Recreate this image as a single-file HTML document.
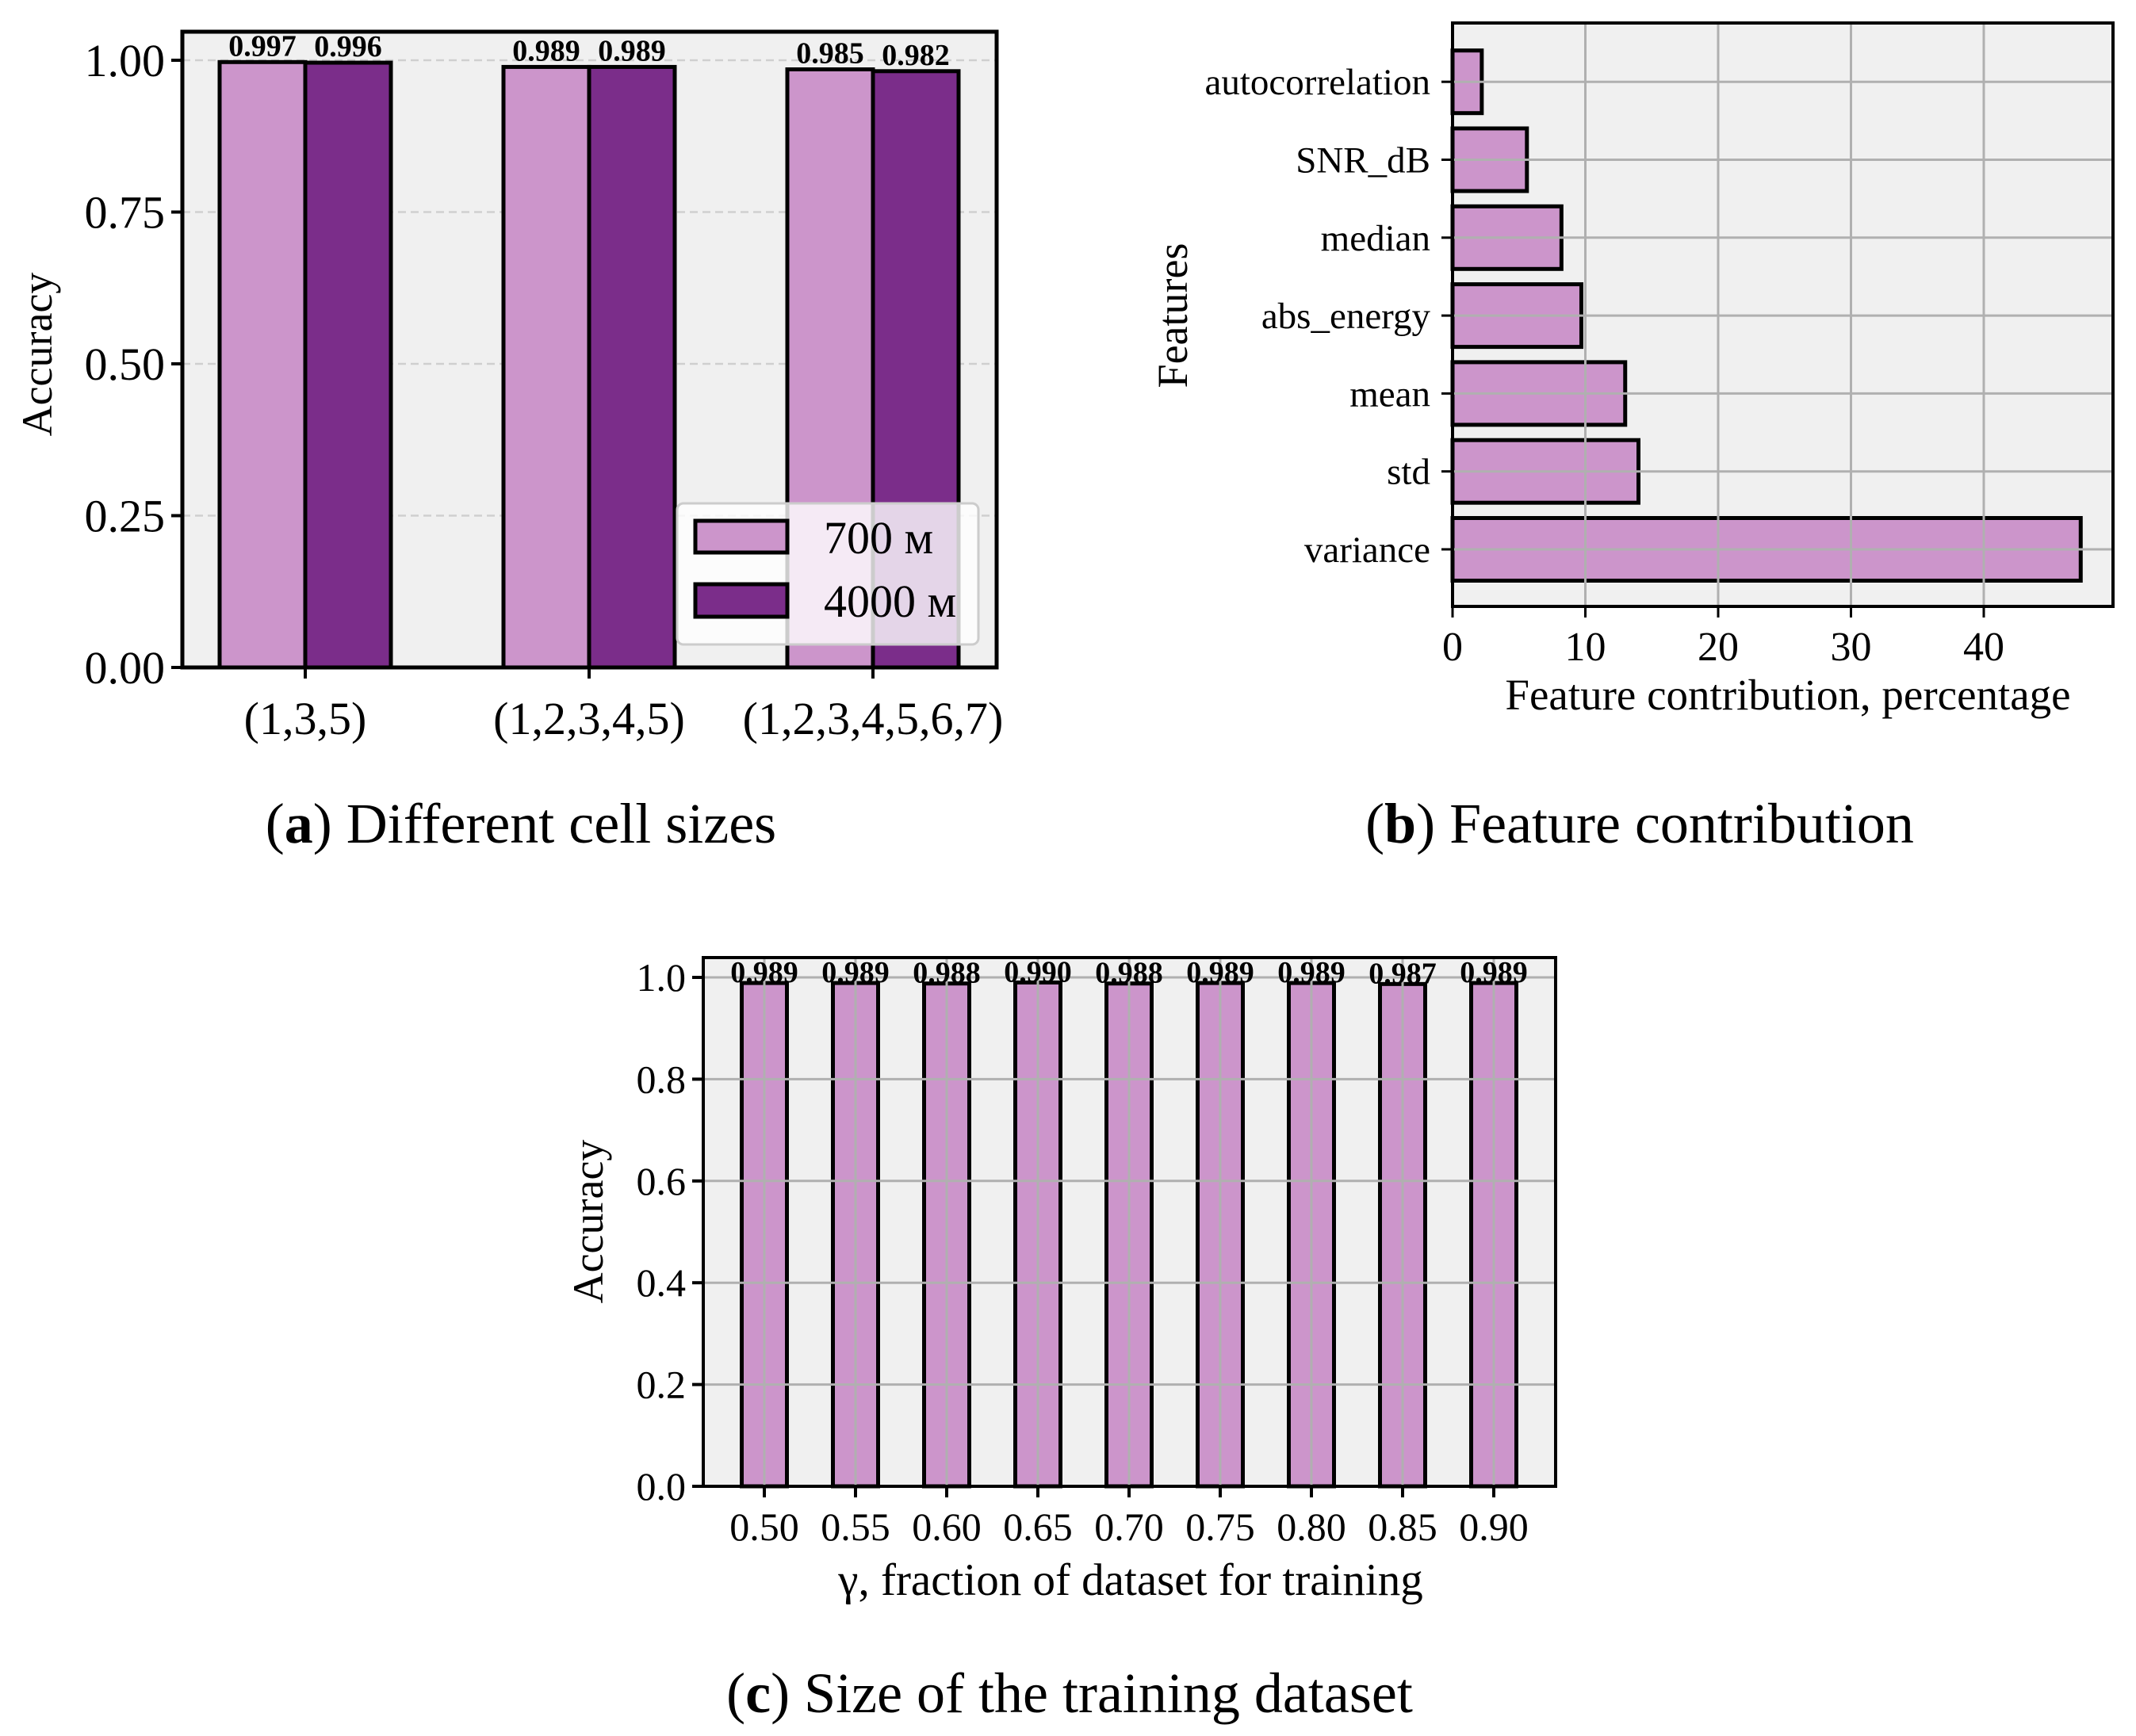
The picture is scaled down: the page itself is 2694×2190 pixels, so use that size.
<!DOCTYPE html>
<html><head><meta charset="utf-8"><style>
html,body{margin:0;padding:0;background:#fff}
svg{display:block}
text{font-family:"Liberation Serif",serif;fill:#000}
</style></head><body>
<svg id="fig" width="2694" height="2190" viewBox="0 0 2694 2190" xmlns="http://www.w3.org/2000/svg"></svg>
<script>
// Chart (a)
const aCategories = ["(1,3,5)", "(1,2,3,4,5)", "(1,2,3,4,5,6,7)"];
const a700 = [0.997, 0.989, 0.985];
const a4000 = [0.996, 0.989, 0.982];
const aYTicks = [0, 0.25, 0.5, 0.75, 1.0];
const aYTickLabels = ["0.00", "0.25", "0.50", "0.75", "1.00"];
// Chart (b)
const bFeatures = ["variance", "std", "mean", "abs_energy", "median", "SNR_dB", "autocorrelation"];
const bValues = [47.3, 14.0, 13.0, 9.7, 8.2, 5.6, 2.2];
const bXTicks = [0, 10, 20, 30, 40];
// Chart (c)
const cGammas = [0.50, 0.55, 0.60, 0.65, 0.70, 0.75, 0.80, 0.85, 0.90];
const cAcc = [0.989, 0.989, 0.988, 0.990, 0.988, 0.989, 0.989, 0.987, 0.989];
const cYTicks = [0, 0.2, 0.4, 0.6, 0.8, 1.0];

const NS = "http://www.w3.org/2000/svg";
const svg = document.getElementById("fig");
function mk(tag, attrs, parent, txt) {
  const e = document.createElementNS(NS, tag);
  for (const k in attrs) e.setAttribute(k, attrs[k]);
  if (txt !== undefined) e.textContent = txt;
  (parent || svg).appendChild(e);
  return e;
}
const PINK = "#cc95cb", PURPLE = "#7b2d8a", BG = "#f0f0f0", GRID = "#b0b0b0";

// ---------- Chart A ----------
(function () {
  const L = 230, R = 1257, T = 40, B = 842;
  const y = v => B - (v / 1.047) * (B - T);
  const x = i => 385 + i * 358;
  const bw = 108;
  const g = mk("g", {});
  
  
  mk("rect", { x: L, y: T, width: R - L, height: B - T, fill: BG }, g);
  aYTicks.forEach((t, i) => {
    const gl = mk("line", { x1: L, x2: R, y1: y(t), y2: y(t), stroke: "#cfcfcf", "stroke-width": 2.5, "stroke-dasharray": "10,6" }, g);
    
    
    mk("line", { x1: L - 14, x2: L, y1: y(t), y2: y(t), stroke: "#000", "stroke-width": 4 }, g);
    const tl = mk("text", { x: L - 22, y: y(t) + 20, "text-anchor": "end", "font-size": 58 }, g, aYTickLabels[i]);
    
    
  });
  aCategories.forEach((c, i) => {
    const b1 = mk("rect", { x: x(i) - bw, y: y(a700[i]), width: bw, height: B - y(a700[i]), fill: PINK, stroke: "#000", "stroke-width": 5 }, g);
    
    
    const b2 = mk("rect", { x: x(i), y: y(a4000[i]), width: bw, height: B - y(a4000[i]), fill: PURPLE, stroke: "#000", "stroke-width": 5 }, g);
    
    
    const v1 = mk("text", { x: x(i) - bw / 2, y: y(a700[i]) - 8, "text-anchor": "middle", "font-size": 38, "font-weight": "bold" }, g, a700[i].toFixed(3));
    
    
    const v2 = mk("text", { x: x(i) + bw / 2, y: y(a4000[i]) - 8, "text-anchor": "middle", "font-size": 38, "font-weight": "bold" }, g, a4000[i].toFixed(3));
    
    
    mk("line", { x1: x(i), x2: x(i), y1: B, y2: B + 14, stroke: "#000", "stroke-width": 4 }, g);
    const xl = mk("text", { x: x(i), y: B + 84, "text-anchor": "middle", "font-size": 58 }, g, c);
    
    
  });
  mk("rect", { x: L, y: T, width: R - L, height: B - T, fill: "none", stroke: "#000", "stroke-width": 5 }, g);
  // legend
  const lg = mk("g", {}, g);
  
  
  mk("rect", { x: 854, y: 635, width: 380, height: 178, rx: 8, fill: "#fff", "fill-opacity": 0.8, stroke: "#cccccc", "stroke-width": 3 }, lg);
  mk("rect", { x: 877, y: 657, width: 116, height: 40, fill: PINK, stroke: "#000", "stroke-width": 5 }, lg);
  mk("rect", { x: 877, y: 737, width: 116, height: 41, fill: PURPLE, stroke: "#000", "stroke-width": 5 }, lg);
  const le1 = mk("text", { x: 1039, y: 698, "font-size": 58 }, lg, "700 м");
  
  
  const le2 = mk("text", { x: 1039, y: 778, "font-size": 58 }, lg, "4000 м");
  
  
  const yl = mk("text", { x: 0, y: 0, "text-anchor": "middle", "font-size": 54, transform: "translate(65,447) rotate(-90)" }, g, "Accuracy");
  
  
  const cap = mk("text", { x: 657, y: 1063, "text-anchor": "middle", "font-size": 72 }, g);
  
  
  mk("tspan", {}, cap, "(");
  mk("tspan", { "font-weight": "bold" }, cap, "a");
  mk("tspan", {}, cap, ") Different cell sizes");
})();

// ---------- Chart B ----------
(function () {
  const L = 1832, R = 2665, T = 29, B = 765;
  const x = v => L + v * 16.75;
  const y = i => 693 - i * 98.3;
  const bh = 79;
  const g = mk("g", {});
  
  
  mk("rect", { x: L, y: T, width: R - L, height: B - T, fill: BG }, g);
  bFeatures.forEach((f, i) => {
    const b = mk("rect", { x: x(0), y: y(i) - bh / 2, width: x(bValues[i]) - x(0), height: bh, fill: PINK, stroke: "#000", "stroke-width": 5 }, g);
    
    
  });
  bXTicks.forEach(t => {
    const gl = mk("line", { x1: x(t), x2: x(t), y1: T, y2: B, stroke: GRID, "stroke-width": 3 }, g);
    
    
    mk("line", { x1: x(t), x2: x(t), y1: B, y2: B + 14, stroke: "#000", "stroke-width": 3 }, g);
    const tl = mk("text", { x: x(t), y: B + 68, "text-anchor": "middle", "font-size": 52 }, g, String(t));
    
    
  });
  bFeatures.forEach((f, i) => {
    const gl = mk("line", { x1: L, x2: R, y1: y(i), y2: y(i), stroke: GRID, "stroke-width": 3 }, g);
    
    
    mk("line", { x1: L - 14, x2: L, y1: y(i), y2: y(i), stroke: "#000", "stroke-width": 3 }, g);
    const tl = mk("text", { x: L - 28, y: y(i) + 16, "text-anchor": "end", "font-size": 47 }, g, f);
    
    
  });
  mk("rect", { x: L, y: T, width: R - L, height: B - T, fill: "none", stroke: "#000", "stroke-width": 4 }, g);
  const yl = mk("text", { x: 0, y: 0, "text-anchor": "middle", "font-size": 54, transform: "translate(1497,398) rotate(-90)" }, g, "Features");
  
  
  const xl = mk("text", { x: 2255, y: 895, "text-anchor": "middle", "font-size": 55 }, g, "Feature contribution, percentage");
  
  
  const cap = mk("text", { x: 2068, y: 1063, "text-anchor": "middle", "font-size": 72 }, g);
  
  
  mk("tspan", {}, cap, "(");
  mk("tspan", { "font-weight": "bold" }, cap, "b");
  mk("tspan", {}, cap, ") Feature contribution");
})();

// ---------- Chart C ----------
(function () {
  const L = 887, R = 1962, T = 1208, B = 1875;
  const y = v => B - v * 642;
  const x = v => 964 + (v - 0.5) / 0.05 * 115;
  const bw = 57;
  const g = mk("g", {});
  
  
  mk("rect", { x: L, y: T, width: R - L, height: B - T, fill: BG }, g);
  cGammas.forEach((gm, i) => {
    const b = mk("rect", { x: x(gm) - bw / 2, y: y(cAcc[i]), width: bw, height: B - y(cAcc[i]), fill: PINK, stroke: "#000", "stroke-width": 5 }, g);
    
    
  });
  cYTicks.forEach(t => {
    const gl = mk("line", { x1: L, x2: R, y1: y(t), y2: y(t), stroke: GRID, "stroke-width": 3 }, g);
    
    
    mk("line", { x1: L - 14, x2: L, y1: y(t), y2: y(t), stroke: "#000", "stroke-width": 4 }, g);
    const tl = mk("text", { x: L - 22, y: y(t) + 17, "text-anchor": "end", "font-size": 50 }, g, t.toFixed(1));
    
    
  });
  cGammas.forEach((gm, i) => {
    const gl = mk("line", { x1: x(gm), x2: x(gm), y1: T, y2: B, stroke: GRID, "stroke-width": 3 }, g);
    
    
    mk("line", { x1: x(gm), x2: x(gm), y1: B, y2: B + 14, stroke: "#000", "stroke-width": 4 }, g);
    const tl = mk("text", { x: x(gm), y: B + 68, "text-anchor": "middle", "font-size": 50 }, g, gm.toFixed(2));
    
    
    const vl = mk("text", { x: x(gm), y: y(cAcc[i]) - 1, "text-anchor": "middle", "font-size": 38, "font-weight": "bold" }, g, cAcc[i].toFixed(3));
    
    
  });
  mk("rect", { x: L, y: T, width: R - L, height: B - T, fill: "none", stroke: "#000", "stroke-width": 4 }, g);
  const yl = mk("text", { x: 0, y: 0, "text-anchor": "middle", "font-size": 54, transform: "translate(760,1541) rotate(-90)" }, g, "Accuracy");
  
  
  const xl = mk("text", { x: 1426, y: 2012, "text-anchor": "middle", "font-size": 57 }, g, "γ, fraction of dataset for training");
  
  
  const cap = mk("text", { x: 1349, y: 2160, "text-anchor": "middle", "font-size": 72 }, g);
  
  
  mk("tspan", {}, cap, "(");
  mk("tspan", { "font-weight": "bold" }, cap, "c");
  mk("tspan", {}, cap, ") Size of the training dataset");
})();
</script>
</body></html>
